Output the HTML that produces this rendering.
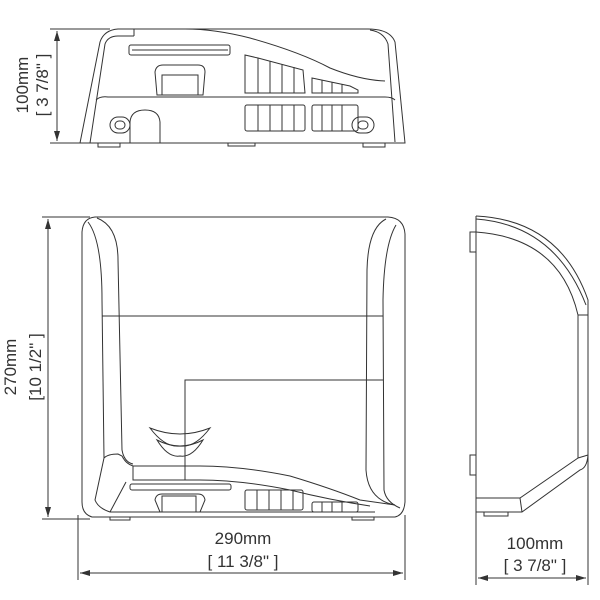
<!DOCTYPE html>
<html><head><meta charset="utf-8"><style>
html,body{margin:0;padding:0;background:#fff}
svg{display:block}
text{font-family:"Liberation Sans",sans-serif;fill:#333}
</style></head><body>
<svg width="600" height="600" viewBox="0 0 600 600" xmlns="http://www.w3.org/2000/svg">
<defs>
<marker id="ar" viewBox="0 0 10 6" refX="10" refY="3" markerWidth="10" markerHeight="6" orient="auto-start-reverse"><path d="M0,0 L10,3 L0,6 z" fill="#333"/></marker>
</defs>
<g fill="none" stroke="#333" stroke-width="1">
<!-- TOP VIEW -->
<line x1="50" y1="29" x2="110" y2="29"/>
<line x1="50" y1="143" x2="80" y2="143"/>
<line x1="57" y1="31" x2="57" y2="141" marker-start="url(#ar)" marker-end="url(#ar)"/>
<path d="M80,143 L100,42 Q104,30 118,29 L368,29 Q390,29 395,42 L405,143 Z"/>
<path d="M90,143 L105,44 Q108,36 118,36 L134,36"/>
<line x1="134" y1="29" x2="134" y2="36"/>
<path d="M395,142 L388,44 Q384,32 370,30"/>
<path d="M96,100 Q100,96 108,97 L385,97 Q392,97 395,100"/>
<rect x="98" y="143" width="22" height="4"/>
<rect x="363" y="143" width="22" height="4"/>
<rect x="228" y="143" width="27" height="3"/>
<path d="M185,29 Q215,29 250,38 Q300,52 330,68 Q360,80 385,81"/>
<rect x="129" y="45" width="101" height="10" rx="2"/>
<line x1="132" y1="50" x2="228" y2="50"/>
<path d="M157,95 L155,72 Q156,65 163,65 L198,65 Q205,65 205,72 L203,95 Z"/>
<rect x="162" y="75" width="36" height="20"/>
<path d="M245,55 L258,58 L303,70 L305,93 L245,93 Z"/>
<line x1="258" y1="58" x2="258" y2="93"/><line x1="270" y1="61" x2="270" y2="93"/><line x1="282" y1="64" x2="282" y2="93"/><line x1="294" y1="67" x2="294" y2="93"/>
<path d="M312,78 L350,86 L358,90 L358,93 L312,93 Z"/>
<line x1="322" y1="80" x2="322" y2="93"/><line x1="332" y1="82" x2="332" y2="93"/><line x1="342" y1="84" x2="342" y2="93"/>
<rect x="245" y="105" width="60" height="26" rx="2"/>
<line x1="258" y1="105" x2="258" y2="131"/><line x1="270" y1="105" x2="270" y2="131"/><line x1="282" y1="105" x2="282" y2="131"/><line x1="294" y1="105" x2="294" y2="131"/>
<rect x="312" y="105" width="46" height="26" rx="2"/>
<line x1="322" y1="105" x2="322" y2="131"/><line x1="332" y1="105" x2="332" y2="131"/><line x1="342" y1="105" x2="342" y2="131"/>
<rect x="110" y="117" width="20" height="16" rx="8"/><rect x="115" y="121" width="10" height="8" rx="4"/>
<rect x="352" y="117" width="22" height="16" rx="8"/><rect x="358" y="121" width="10" height="8" rx="4"/>
<path d="M130,143 L130,122 Q131,110 145,110 Q159,110 160,122 L160,143"/>

<!-- FRONT VIEW -->
<line x1="42" y1="217" x2="90" y2="217"/>
<line x1="42" y1="519" x2="90" y2="519"/>
<line x1="48" y1="219" x2="48" y2="517" marker-start="url(#ar)" marker-end="url(#ar)"/>
<line x1="78" y1="515" x2="78" y2="580"/>
<line x1="405" y1="515" x2="405" y2="580"/>
<line x1="80" y1="573" x2="403" y2="573" marker-start="url(#ar)" marker-end="url(#ar)"/>
<path d="M95,217 L388,217 Q404,218 405,234 L405,502 Q404,515 395,517 L92,517 Q82,514 82,502 L82,232 Q83,218 95,217 Z"/>
<path d="M97,218 Q118,226 118,260 L122,450 Q124,462 133,464"/>
<path d="M88,222 Q102,240 102,300 L104,458"/>
<path d="M386,219 Q368,228 367,270 L366,470 Q368,500 395,505"/>
<path d="M396,225 Q384,245 383,300 L384,490 Q386,502 400,508"/>
<line x1="102" y1="316" x2="383" y2="316"/>
<path d="M185,480 L185,380 L383,380"/>
<path d="M104,458 Q108,454 118,454 L122,456 Q126,464 133,466 L200,466 Q240,466 290,476 Q330,488 360,500 L395,505"/>
<path d="M104,458 L95,500 Q98,508 110,512 L375,512"/>
<path d="M133,466 L133,480 L200,480 Q240,480 290,490 Q330,500 370,506"/>
<path d="M126,482 L110,512"/>
<rect x="130" y="484" width="101" height="6" rx="2"/>
<path d="M160,512 L155,500 Q156,494 162,494 L198,494 Q204,494 205,500 L200,512"/>
<rect x="162" y="496" width="34" height="16"/>
<rect x="245" y="490" width="58" height="20" rx="2"/>
<line x1="257" y1="490" x2="257" y2="510"/><line x1="269" y1="490" x2="269" y2="510"/><line x1="281" y1="490" x2="281" y2="510"/><line x1="293" y1="490" x2="293" y2="510"/>
<rect x="312" y="502" width="46" height="10" rx="2"/>
<line x1="322" y1="502" x2="322" y2="512"/><line x1="332" y1="502" x2="332" y2="512"/><line x1="342" y1="502" x2="342" y2="512"/>
<rect x="110" y="517" width="20" height="3"/>
<rect x="352" y="517" width="22" height="3"/>
<path d="M150,428 Q180,440 210,428 Q195,448 180,446 Q165,448 150,428 Z"/>
<path d="M157,440 Q180,452 203,440 Q192,458 180,456 Q168,458 157,440 Z"/>

<!-- SIDE VIEW -->
<line x1="476" y1="216" x2="476" y2="585"/>
<line x1="588" y1="310" x2="588" y2="585"/>
<line x1="478" y1="578" x2="586" y2="578" marker-start="url(#ar)" marker-end="url(#ar)"/>
<path d="M476,216 Q560,220 588,300 L588,455 Q587,468 580,470 L522,512 L476,512"/>
<path d="M476,219 Q555,225 586,305"/>
<path d="M476,232 Q560,238 578,315 L578,458 L520,498 L476,498"/>
<line x1="578" y1="315" x2="588" y2="315"/>
<line x1="578" y1="458" x2="588" y2="455"/>
<line x1="520" y1="498" x2="522" y2="512"/>
<rect x="470" y="232" width="6" height="20"/>
<rect x="470" y="455" width="6" height="20"/>
<rect x="484" y="512" width="24" height="4"/>
</g>

<g font-size="17">
<text transform="translate(28,85) rotate(-90)" text-anchor="middle">100mm</text>
<text transform="translate(48,85) rotate(-90)" text-anchor="middle">[ 3 7/8" ]</text>
<text transform="translate(16,367) rotate(-90)" text-anchor="middle">270mm</text>
<text transform="translate(41,367) rotate(-90)" text-anchor="middle">[10 1/2" ]</text>
<text x="243" y="544" text-anchor="middle">290mm</text>
<text x="243" y="567" text-anchor="middle">[ 11 3/8" ]</text>
<text x="535" y="549" text-anchor="middle">100mm</text>
<text x="535" y="571" text-anchor="middle">[ 3 7/8" ]</text>
</g>
</svg>
</body></html>
